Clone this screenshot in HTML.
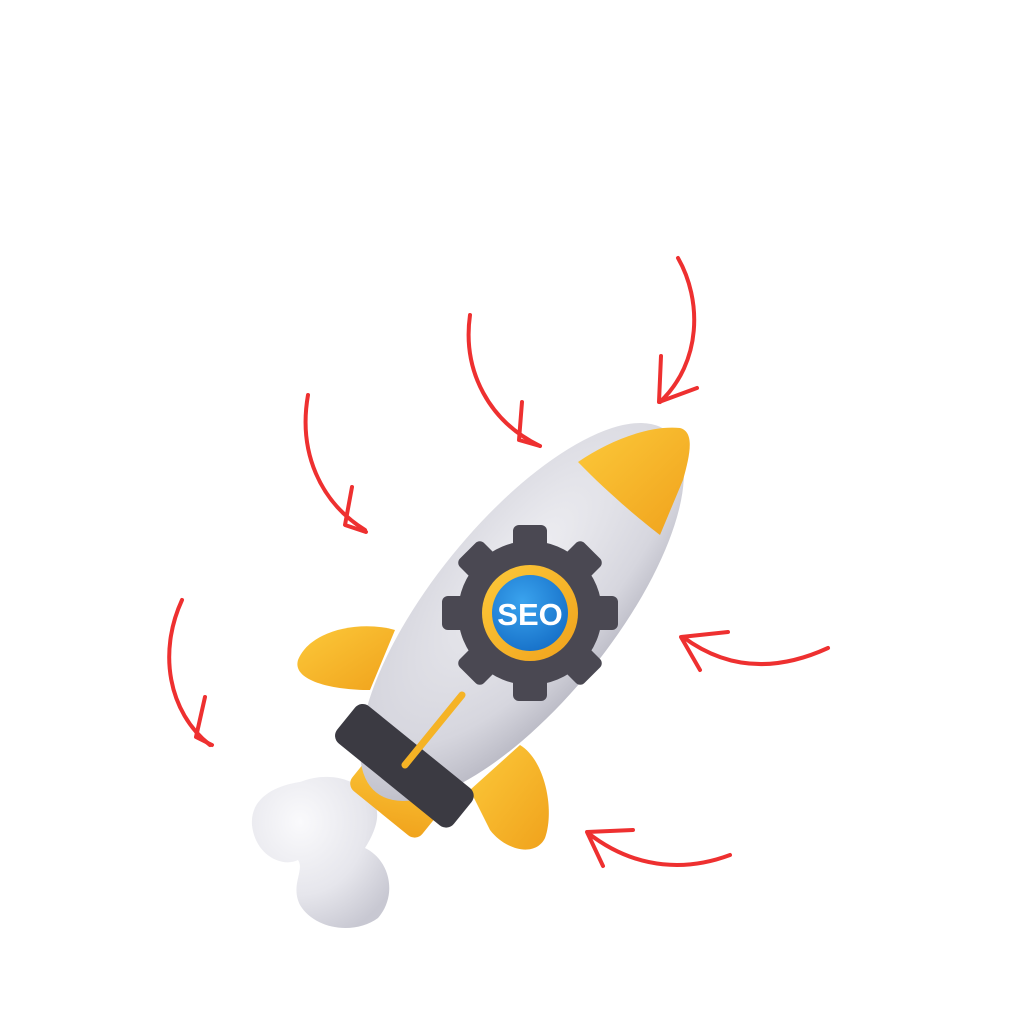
<!DOCTYPE html>
<html><head><meta charset="utf-8"><style>
html,body{margin:0;padding:0;background:#fff;}
svg{display:block;}
</style></head><body>
<svg width="1024" height="1024" viewBox="0 0 1024 1024" xmlns="http://www.w3.org/2000/svg">
<defs>
<radialGradient id="body" cx="0.35" cy="0.4" r="0.7">
<stop offset="0" stop-color="#eeeef2"/><stop offset="0.7" stop-color="#d6d6de"/><stop offset="1" stop-color="#b9b9c4"/>
</radialGradient>
<linearGradient id="yel" x1="0" y1="0" x2="1" y2="1">
<stop offset="0" stop-color="#fcc93a"/><stop offset="1" stop-color="#f0a21c"/>
</linearGradient>
<radialGradient id="blue" cx="0.4" cy="0.35" r="0.7">
<stop offset="0" stop-color="#3aa3ee"/><stop offset="1" stop-color="#1670c8"/>
</radialGradient>
<radialGradient id="cloud" cx="0.35" cy="0.3" r="0.8">
<stop offset="0" stop-color="#fafafc"/><stop offset="0.6" stop-color="#e6e6ec"/><stop offset="1" stop-color="#c8c8d2"/>
</radialGradient>
</defs>

<!-- cloud/exhaust -->
<path d="M300,782 C330,770 360,780 372,800 C385,815 370,840 365,848 C390,860 398,895 378,918 C355,935 315,930 300,905 C290,885 305,870 298,860 C282,868 255,855 252,825 C250,800 272,786 300,782 Z" fill="url(#cloud)"/>

<!-- fins -->
<path d="M395,630 C360,620 310,630 298,660 C292,680 330,690 370,690 Z" fill="url(#yel)"/>
<path d="M520,745 C545,760 555,810 545,838 C535,858 505,850 490,830 L470,790 Z" fill="url(#yel)"/>

<!-- tail yellow part -->
<g transform="rotate(39 400 790)">
<rect x="355" y="770" width="90" height="50" rx="10" fill="url(#yel)"/>
</g>

<!-- body -->
<g transform="rotate(39 522 612)">
<ellipse cx="522" cy="612" rx="90" ry="232" fill="url(#body)"/>
</g>

<!-- nose cone -->
<path d="M578,462 C610,440 650,425 680,428 C695,432 690,455 683,480 L660,535 C640,520 605,490 578,462 Z" fill="url(#yel)"/>

<!-- band -->
<g transform="rotate(39 405 765)">
<rect x="330" y="742" width="150" height="48" rx="10" fill="#3b3a42"/>
</g>

<!-- stripe -->
<line x1="462" y1="695" x2="405" y2="765" stroke="#f5b325" stroke-width="7" stroke-linecap="round"/>

<!-- gear -->
<g transform="translate(530,613)" fill="#4a4852">
<circle r="72"/>
<g>
<rect x="-17" y="-88" width="34" height="30" rx="6"/>
<rect x="-17" y="-88" width="34" height="30" rx="6" transform="rotate(45)"/>
<rect x="-17" y="-88" width="34" height="30" rx="6" transform="rotate(90)"/>
<rect x="-17" y="-88" width="34" height="30" rx="6" transform="rotate(135)"/>
<rect x="-17" y="-88" width="34" height="30" rx="6" transform="rotate(180)"/>
<rect x="-17" y="-88" width="34" height="30" rx="6" transform="rotate(225)"/>
<rect x="-17" y="-88" width="34" height="30" rx="6" transform="rotate(270)"/>
<rect x="-17" y="-88" width="34" height="30" rx="6" transform="rotate(315)"/>
</g>
</g>
<circle cx="530" cy="613" r="48" fill="url(#yel)"/>
<circle cx="530" cy="613" r="38" fill="url(#blue)"/>
<text x="530" y="625" text-anchor="middle" font-family="Liberation Sans, sans-serif" font-weight="bold" font-size="31" fill="#fff">SEO</text>

<!-- arrows -->
<g fill="none" stroke="#ee3030" stroke-width="4" stroke-linecap="round" stroke-linejoin="round">
<path d="M678,258 C702,300 702,362 660,402"/>
<path d="M661,356 L659,402 L697,388"/>
<path d="M470,315 C462,372 490,422 540,446"/>
<path d="M522,402 L519,440 L540,446"/>
<path d="M308,395 C298,452 320,502 365,530"/>
<path d="M352,487 L345,525 L366,532"/>
<path d="M182,600 C158,652 168,712 210,745"/>
<path d="M205,697 L196,737 L212,745"/>
<path d="M828,648 C780,670 730,672 683,637"/>
<path d="M728,632 L681,637 L700,670"/>
<path d="M730,855 C690,870 638,872 588,833"/>
<path d="M633,830 L587,832 L603,866"/>
</g>
</svg>
</body></html>
